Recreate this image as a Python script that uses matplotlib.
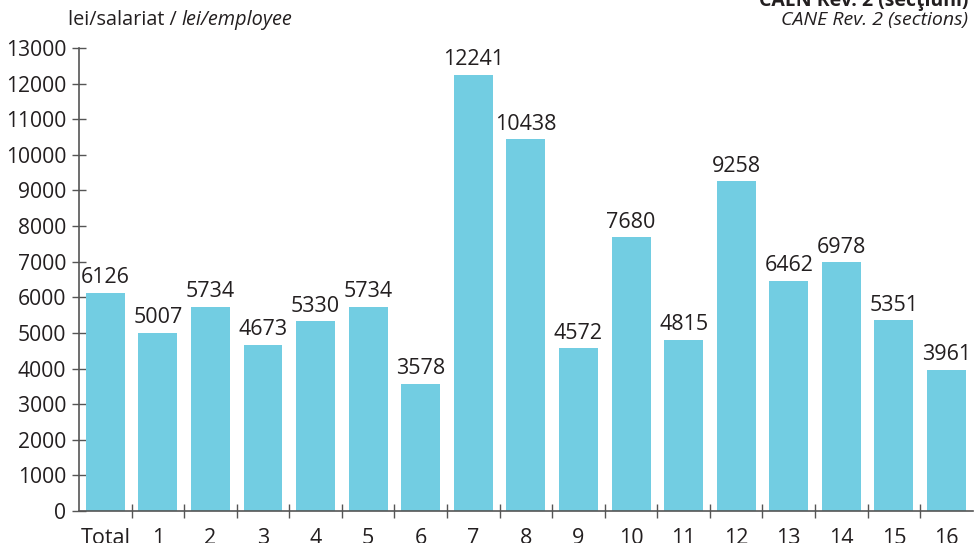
import matplotlib
matplotlib.use("Agg")
import matplotlib.pyplot as plt
from matplotlib.ticker import FixedLocator

categories = ["Total", "1", "2", "3", "4", "5", "6", "7", "8", "9", "10",
              "11", "12", "13", "14", "15", "16"]
values = [6126, 5007, 5734, 4673, 5330, 5734, 3578, 12241, 10438, 4572, 7680,
          4815, 9258, 6462, 6978, 5351, 3961]
yticks = list(range(0, 13001, 1000))

plt.rcParams['font.family'] = ['Open Sans', 'DejaVu Sans']
txt = '#231f20'
bar_color = '#72cde2'

fig = plt.figure(figsize=(9.74, 5.43), dpi=100)
ax = fig.add_axes([79/974, 1-511/543, 893.8/974, (511-48)/543])

x = list(range(len(categories)))
ax.bar(x, values, width=0.74, color=bar_color, zorder=2)
for xi, v in zip(x, values):
    ax.text(xi, v + 130, str(v), ha='center', va='bottom', fontsize=15.5, color=txt)

ax.set_xlim(-0.5, len(categories) - 0.5)
ax.set_ylim(0, 13000)
ax.set_yticks(yticks)
ax.set_yticklabels([str(t) for t in yticks], fontsize=15.2, color=txt)
ax.set_xticks(x)
ax.set_xticklabels(categories, fontsize=15.5, color=txt)
ax.xaxis.set_minor_locator(FixedLocator([i + 0.5 for i in range(len(categories) - 1)]))
ax.tick_params(axis='x', which='major', length=0, pad=12)
ax.tick_params(axis='x', which='minor', direction='inout', length=10, width=1, color='#555555')
ax.tick_params(axis='y', direction='inout', length=10, width=1, color='#555555', pad=4)

for s in ['top', 'right']:
    ax.spines[s].set_visible(False)
for s in ['left', 'bottom']:
    ax.spines[s].set_color('#555555')
    ax.spines[s].set_linewidth(1.2)

# y unit label with mixed styles
fig.canvas.draw()
r = fig.canvas.get_renderer()
t1 = fig.text(68/974, 1-20/543, "lei/salariat / ", fontsize=14.3, color=txt, va='center', ha='left')
bb = t1.get_window_extent(renderer=r)
fig.text(bb.x1/974, 1-20/543, "lei/employee", fontsize=14.3, color=txt, va='center', ha='left', style='italic')

# top right classification labels
fig.text(968/974, 1-1/543, "CAEN Rev. 2 (secţiuni)", fontsize=14, color=txt, va='center', ha='right', weight='bold')
fig.text(968/974, 1-20/543, "CANE Rev. 2 (sections)", fontsize=14, color=txt, va='center', ha='right', style='italic')

fig.savefig("out.png", dpi=100)
